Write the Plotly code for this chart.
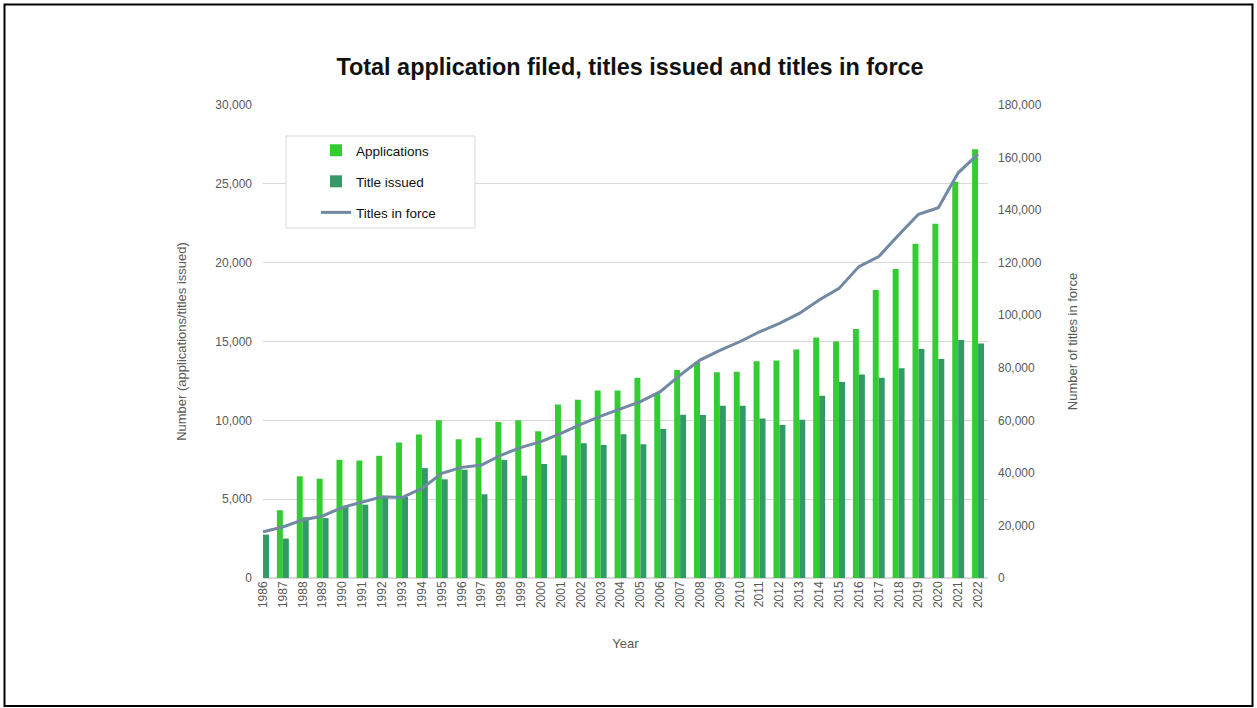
import plotly.graph_objects as go

years = [str(y) for y in range(1986, 2023)]
applications = [None, 4300, 6450, 6300, 7500, 7450, 7750, 8600, 9100, 10000,
                8800, 8900, 9900, 10000, 9300, 11000, 11300, 11900, 11900, 12700,
                11700, 13200, 13700, 13050, 13080, 13740, 13800, 14500, 15260, 15000,
                15790, 18260, 19600, 21200, 22470, 25130, 27200]
titles_issued = [2750, 2500, 3850, 3800, 4520, 4650, 5120, 5150, 6970, 6260,
                 6870, 5310, 7480, 6490, 7230, 7780, 8540, 8430, 9110, 8480,
                 9450, 10360, 10340, 10930, 10930, 10110, 9700, 10040, 11560, 12430,
                 12910, 12700, 13300, 14520, 13890, 15090, 14880]
titles_in_force = [17600, 19400, 22100, 23600, 26900, 29000, 30900, 30600, 34100, 39800,
                   42100, 43000, 46800, 49700, 51900, 55000, 58500, 61600, 64300, 67100,
                   70900, 77200, 82950, 86600, 89900, 93700, 96900, 100700, 105800, 110200,
                   118500, 122300, 130500, 138400, 140900, 154200, 161300]

W, H = 1257, 708
L, R, T, B = 263, 988, 105, 578

def px_x(p):
    return (p - L) / (R - L)

def px_y(p):
    return (B - p) / (B - T)

tick_font = dict(family="Liberation Sans, Arial, sans-serif", size=12, color="#595959")
title_font = dict(family="Liberation Sans, Arial, sans-serif", size=13, color="#595959")

fig = go.Figure()
fig.add_trace(go.Bar(x=years, y=applications, name="Applications",
                     marker=dict(color="#33CC33", line=dict(width=0)),
                     legendgroup="a"))
fig.add_trace(go.Bar(x=years, y=titles_issued, name="Title issued",
                     marker=dict(color="#339966", line=dict(width=0)),
                     legendgroup="b"))
fig.add_trace(go.Scatter(x=years, y=titles_in_force, name="Titles in force",
                         mode="lines", line=dict(color="#7189A2", width=3),
                         yaxis="y2", legendgroup="c"))

fig.update_layout(
    width=W, height=H,
    margin=dict(l=L, r=W - R, t=T, b=H - B, autoexpand=False),
    paper_bgcolor="white", plot_bgcolor="white",
    barmode="group", bargap=0.4, bargroupgap=0,
    title=dict(text="<b>Total application filed, titles issued and titles in force</b>",
               x=630 / W, xref="container", xanchor="center",
               y=1 - 67 / H, yref="container", yanchor="middle",
               font=dict(family="Liberation Sans, Arial, sans-serif", size=23.4, color="#111111")),
    xaxis=dict(type="category", range=[0, 36.5], tickangle=-90, tickfont=tick_font,
               showgrid=False, showline=False, zeroline=False, ticks="",
               title=dict(text="Year", font=title_font, standoff=31)),
    yaxis=dict(range=[0, 30000], dtick=5000, tickformat=",", tickfont=tick_font,
               gridcolor="#D9D9D9", gridwidth=1, zeroline=True, zerolinecolor="#D9D9D9",
               showline=False, ticks="", ticklabelstandoff=10,
               title=dict(text="Number (applications/titles issued)", font=title_font, standoff=25)),
    yaxis2=dict(range=[0, 180000], dtick=20000, tickformat=",", tickfont=tick_font,
                overlaying="y", side="right", showgrid=False, zeroline=False,
                showline=False, ticks="", ticklabelstandoff=9,
                title=dict(text="Number of titles in force", font=title_font, standoff=27)),
    legend=dict(x=px_x(316), y=px_y(135), xanchor="left", yanchor="top",
                bgcolor="rgba(0,0,0,0)", borderwidth=0,
                traceorder="grouped", tracegroupgap=10.5,
                font=dict(family="Liberation Sans, Arial, sans-serif", size=13.5, color="#111111")),
    showlegend=True,
    shapes=[
        dict(type="rect", xref="paper", yref="paper",
             x0=px_x(286), x1=px_x(475), y0=px_y(228), y1=px_y(136),
             fillcolor="white", line=dict(color="#D9D9D9", width=1), layer="above"),
        dict(type="rect", xref="paper", yref="paper",
             x0=px_x(4.5), x1=px_x(1252.5), y0=px_y(706), y1=px_y(4.5),
             fillcolor="rgba(0,0,0,0)", line=dict(color="#000000", width=2), layer="above"),
    ],
)

fig.write_html("out.html",
               config={"displayModeBar": False},
               post_script="document.body.style.margin='0';document.body.style.overflow='hidden';")
